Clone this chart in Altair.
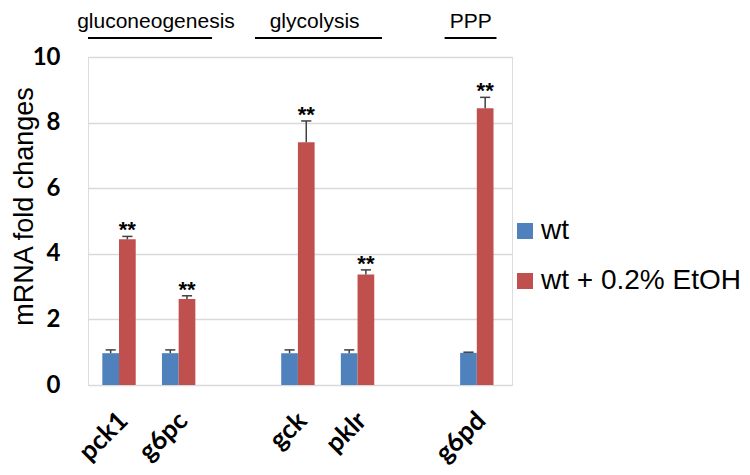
import altair as alt
import pandas as pd

# ---- data ----
genes = ["pck1", "g6pc", "gck", "pklr", "g6pd"]
slots = [0, 1, 3, 4, 6]
series = ["wt", "wt + 0.2% EtOH"]
wt_vals = [0.97, 0.97, 0.97, 0.97, 0.98]
wt_err = [0.10, 0.10, 0.10, 0.10, 0.02]
etoh_vals = [4.44, 2.62, 7.40, 3.37, 8.44]
etoh_err = [0.09, 0.10, 0.65, 0.14, 0.33]
stars = ["**", "**", "**", "**", "**"]

groups = ["gluconeogenesis", "glycolysis", "PPP"]
group_start = [-0.52, 2.28, 5.46]
group_end = [1.56, 4.41, 6.33]
group_center = [0.62, 3.28, 5.90]

colors = ["#4f81bd", "#c0504d"]

BW = 0.28
rows = []
for g, s, v, e, v2, e2 in zip(genes, slots, wt_vals, wt_err, etoh_vals, etoh_err):
    rows.append(dict(gene=g, series=series[0], x1=s - BW, x2=s, c=s - BW / 2,
                     value=v, lo=v, hi=v + e, capl=s - BW / 2 - 0.085, capr=s - BW / 2 + 0.085))
    rows.append(dict(gene=g, series=series[1], x1=s, x2=s + BW, c=s + BW / 2,
                     value=v2, lo=v2, hi=v2 + e2, capl=s + BW / 2 - 0.085, capr=s + BW / 2 + 0.085))
df = pd.DataFrame(rows)
star_df = df[df["series"] == series[1]].copy()
star_df["star"] = stars

grp_df = pd.DataFrame(dict(name=groups, gs=group_start, ge=group_end, gc=group_center))

label_expr = " : ".join(f"datum.value == {s} ? '{g}'" for s, g in zip(slots, genes)) + " : ''"

XSCALE = alt.Scale(domain=[-0.52, 6.59], nice=False, zero=False)
YSCALE = alt.Scale(domain=[0, 10], nice=False)

XAXIS = alt.Axis(values=slots, labelExpr=label_expr, labelAngle=-45, grid=False, ticks=False,
                 domain=False, labelFont="Lato", labelFontWeight="bold", labelFontSize=26,
                 labelColor="black", labelPadding=22, labelOffset=-5, title=None)
YAXIS = alt.Axis(values=[0, 2, 4, 6, 8, 10], grid=True, gridColor="#d9d9d9", gridWidth=1.5,
                 ticks=False, domain=False, labelFont="Lato", labelFontWeight="bold",
                 labelFontSize=24, labelColor="black", labelPadding=28,
                 title="mRNA fold changes", titleFont="Liberation Sans", titleFontSize=27,
                 titleFontWeight="normal", titleColor="black", titleAngle=270,
                 titleX=-64, titleY=149, titleAlign="center", titleBaseline="middle")


def X(f):
    return alt.X(f, scale=XSCALE, axis=XAXIS)


def Y(f):
    return alt.Y(f, scale=YSCALE, axis=YAXIS)


base = alt.Chart(df)

bars = base.mark_bar(strokeWidth=0).encode(
    x=X("x1:Q"), x2="x2:Q",
    y=Y("value:Q"), y2=alt.datum(0),
    color=alt.Color("series:N", scale=alt.Scale(domain=series, range=colors),
                    legend=alt.Legend(orient="none", legendX=423, legendY=160, title=None,
                                      symbolType="square", symbolSize=256, symbolStrokeWidth=0,
                                      labelFont="Liberation Sans", labelFontSize=28,
                                      labelColor="black", rowPadding=22, labelOffset=2,
                                      labelLimit=0, padding=0)),
)

err = base.mark_rule(color="#404040", strokeWidth=1.5).encode(
    x=X("c:Q"), y=Y("lo:Q"), y2="hi:Q"
)
cap = base.mark_rule(color="#404040", strokeWidth=1.5).encode(
    x=X("capl:Q"), x2="capr:Q", y=Y("hi:Q")
)

star_txt = alt.Chart(star_df).mark_text(font="Liberation Sans", fontWeight="bold", fontSize=22,
                                        baseline="alphabetic", dy=1, color="black").encode(
    x=X("c:Q"), y=Y("hi:Q"), text="star:N"
)

grp_text = alt.Chart(grp_df).mark_text(font="Liberation Sans", fontSize=21, color="black",
                                       baseline="alphabetic").encode(
    x=X("gc:Q"), y=alt.value(-29), text="name:N"
)
grp_line = alt.Chart(grp_df).mark_rule(color="black", strokeWidth=2).encode(
    x=X("gs:Q"), x2="ge:Q", y=alt.value(-19)
)

chart = alt.layer(bars, err, cap, star_txt, grp_line, grp_text).properties(
    width=424, height=328,
    autosize=alt.AutoSizeParams(type="none"),
    padding={"left": 80, "top": 49, "right": 230, "bottom": 82},
).configure_view(stroke=None).configure(background="white")

chart.save("out.html", embed_options={"renderer": "svg", "actions": False})
